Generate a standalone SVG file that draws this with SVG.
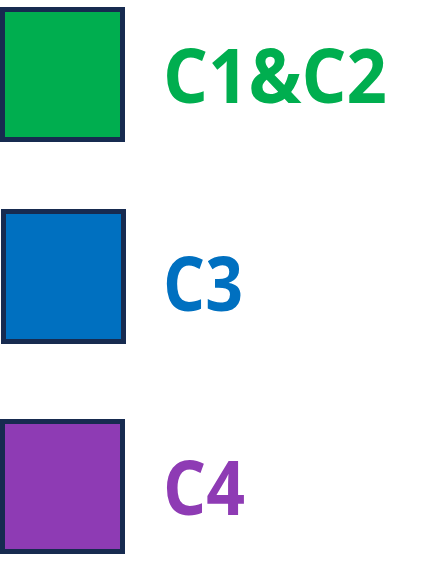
<svg xmlns="http://www.w3.org/2000/svg" width="440" height="587" viewBox="0 0 440 587">
<style>
.sw{stroke:#172B50;stroke-width:5}
.lbl{font-family:"Open Sans","Liberation Sans",Arial,sans-serif;font-weight:bold;font-size:75px}
</style>
<rect width="440" height="587" fill="#ffffff"/>
<g id="legend-c1c2">
<rect class="sw" x="2.5" y="9.5" width="120" height="130" fill="#00AE4F"/>
<text class="lbl" x="163" y="103" fill="#00AE4F" textLength="224" lengthAdjust="spacingAndGlyphs">C1&amp;C2</text>
</g>
<g id="legend-c3">
<rect class="sw" x="3.5" y="211.5" width="120" height="130" fill="#0070C0"/>
<text class="lbl" x="163" y="311" fill="#0070C0" textLength="80" lengthAdjust="spacingAndGlyphs">C3</text>
</g>
<g id="legend-c4">
<rect class="sw" x="2.5" y="421.5" width="120" height="130" fill="#8E3BB4"/>
<text class="lbl" x="163" y="515" fill="#8E3BB4" textLength="82" lengthAdjust="spacingAndGlyphs">C4</text>
</g>
<g id="connectors"/>
</svg>
